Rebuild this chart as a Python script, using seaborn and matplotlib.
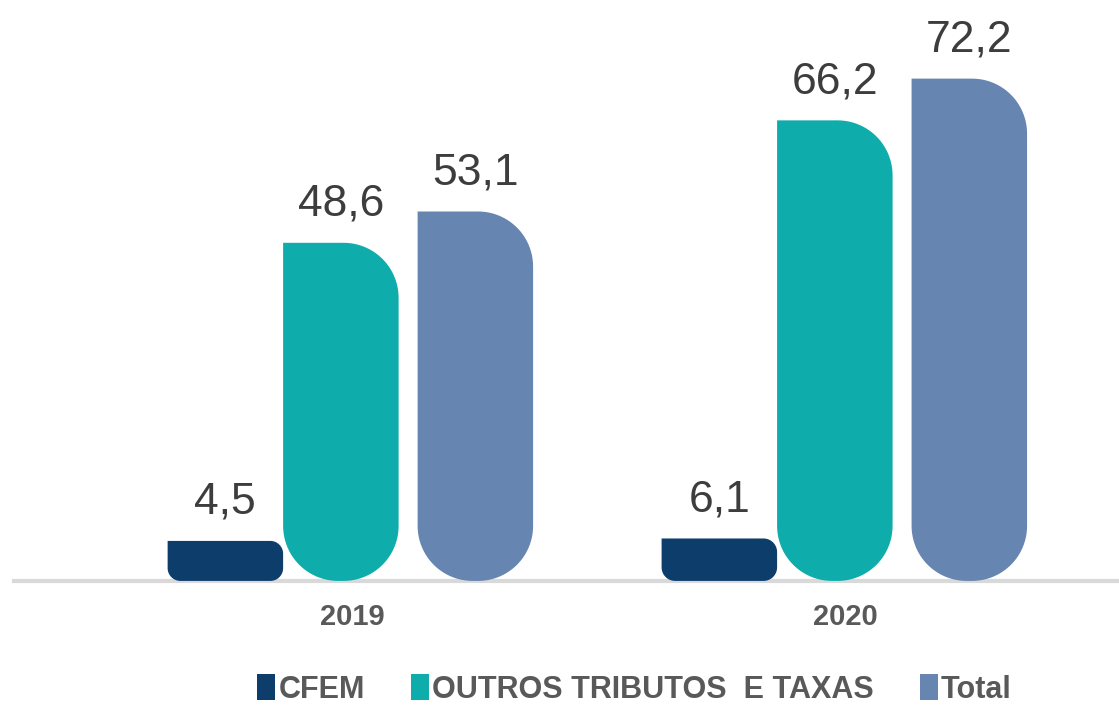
import numpy as np
import pandas as pd
import seaborn as sns
from matplotlib import pyplot as plt
from matplotlib.path import Path
from matplotlib.patches import PathPatch, Patch

anos = ["2019", "2020"]
series = ["CFEM", "OUTROS TRIBUTOS  E TAXAS", "Total"]
cfem = [4.5, 6.1]
outros = [48.6, 66.2]
total = [53.1, 72.2]
cores = ["#0d3d6b", "#0eacaa", "#6685b0"]

df = pd.DataFrame({
    "Ano": anos * 3,
    "Serie": [s for s in series for _ in anos],
    "Valor": cfem + outros + total,
})

sns.set_style("white")
plt.rcParams["font.family"] = ["Liberation Sans", "DejaVu Sans"]

fig = plt.figure(figsize=(11.19, 7.05), dpi=100)
ax = fig.add_axes([0.0125, 0.176, 0.9875, 0.824])

sns.barplot(data=df, x="Ano", y="Valor", hue="Serie", palette=cores,
            width=0.75, ax=ax, legend=False, saturation=1)

ax.set_xlim(-0.684, 1.553)
ax.set_ylim(0, 83.5)

p0 = ax.transData.transform((0, 0))
p1 = ax.transData.transform((1, 1))
pxx = p1[0] - p0[0]
pxy = p1[1] - p0[1]

# small per-series nudge (px) so the first two bars sit close together
nudge = [-3, -11, 0]


def rounded_bar(x0, x1, y0, y1, rx, ry):
    # top-left corner square, the other three rounded
    t = np.linspace(0, np.pi / 2, 24)
    pts = [(x0, y1)]
    cx, cy = x1 - rx, y1 - ry
    pts += list(zip(cx + rx * np.sin(t), cy + ry * np.cos(t)))
    cx, cy = x1 - rx, y0 + ry
    pts += list(zip(cx + rx * np.cos(t), cy - ry * np.sin(t)))
    cx, cy = x0 + rx, y0 + ry
    pts += list(zip(cx - rx * np.sin(t), cy - ry * np.cos(t)))
    pts.append((x0, y1))
    return Path(pts, closed=True)


for cont, cor, dx in zip(ax.containers, cores, nudge):
    xs = []
    for bar in cont:
        x, w, h = bar.get_x(), bar.get_width(), bar.get_height()
        bar.set_visible(False)
        shrink = 8 / pxx
        x0 = x + shrink / 2 + dx / pxx
        x1 = x + w - shrink / 2 + dx / pxx
        hpx = max(h * pxy, 40)
        r = min(55, hpx * 0.32)
        path = rounded_bar(x0, x1, 0, hpx / pxy, r / pxx, r / pxy)
        ax.add_patch(PathPatch(path, facecolor=cor, edgecolor="none", zorder=3))
        xs.append((x0 + x1) / 2)
    for xc, v in zip(xs, cont.datavalues):
        ax.annotate(f"{v:.1f}".replace(".", ","), (xc, max(v, 40 / pxy)),
                    xytext=(0, 13), textcoords="offset points", ha="center",
                    va="bottom", fontsize=32, color="#3d3d3d")

sns.despine(ax=ax, left=True)
ax.spines["bottom"].set_color("#d9d9d9")
ax.spines["bottom"].set_linewidth(3)
ax.spines["bottom"].set_zorder(1)
ax.set_yticks([])
ax.set_xlabel("")
ax.set_ylabel("")
ax.tick_params(axis="x", length=0, pad=16, labelsize=21, labelcolor="#595959")
for lab in ax.get_xticklabels():
    lab.set_fontweight("bold")

handles = [Patch(facecolor=c, edgecolor="none") for c in cores]
fig.legend(handles, series, loc="center", bbox_to_anchor=(0.567, 0.022), ncol=3,
           frameon=False, handlelength=0.6, handleheight=0.9, handletextpad=0.1,
           columnspacing=1.5, prop={"size": 22, "weight": "bold"},
           labelcolor="#595959")

fig.savefig("out.png", dpi=100)
